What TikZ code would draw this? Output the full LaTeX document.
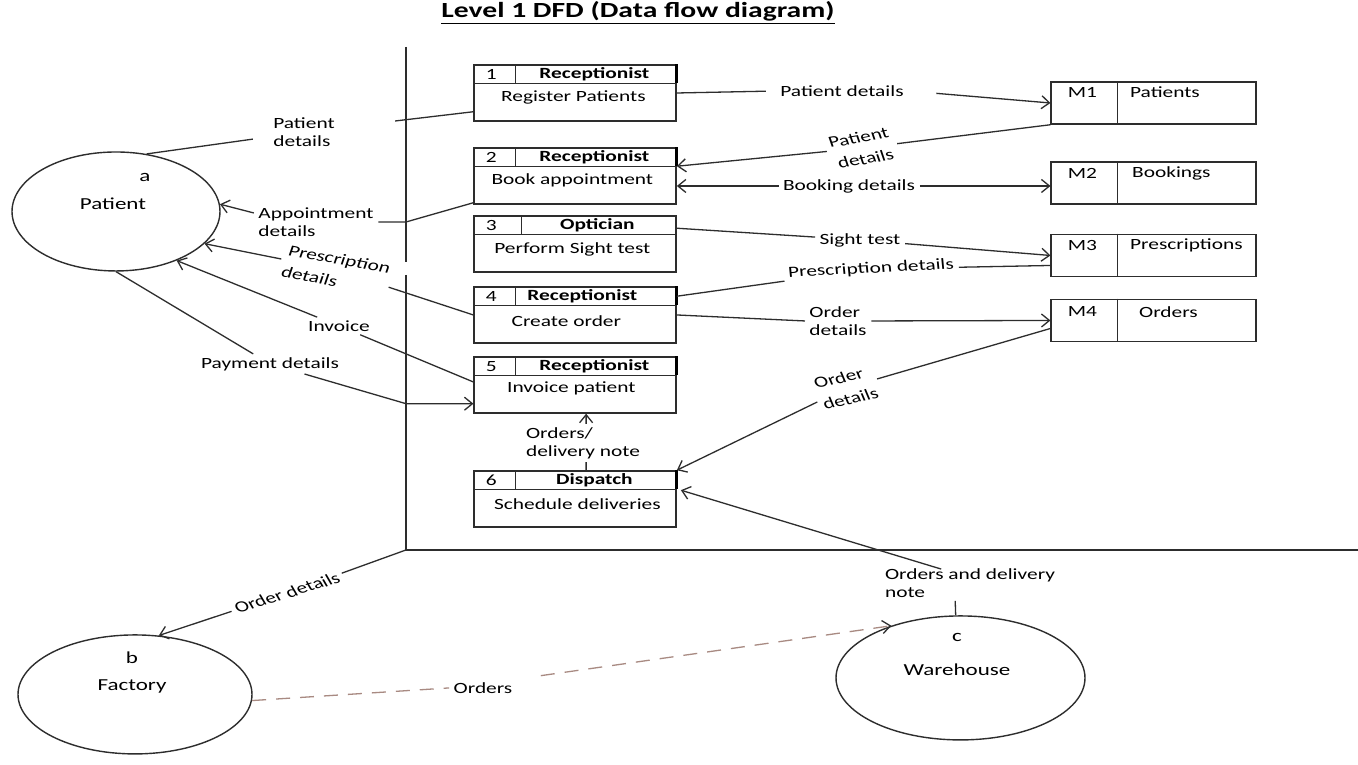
\documentclass[tikz,border=0pt]{standalone}
\usepackage{fontspec}
\setmainfont{Carlito}
\usepackage{tikz}
\usetikzlibrary{calc,shapes.geometric,arrows.meta}

\definecolor{linegray}{RGB}{45,45,45}
\definecolor{dashbrown}{RGB}{168,138,130}

\begin{document}
\begin{tikzpicture}[xscale=1.37, x=0.365pt, y=-0.5pt,
  >={Straight Barb[length=4pt,width=6.5pt]},
  txt/.style={transform shape, font=\fontsize{7.8}{9}\selectfont, inner sep=1.5pt, align=center},
  hdr/.style={txt, font=\fontsize{7.8}{9}\selectfont\bfseries},
  lbl/.style={txt},
  enttxt/.style={txt, font=\fontsize{8.4}{10}\selectfont},
  proc/.style={draw=linegray, line width=0.75pt, minimum width=101pt, minimum height=28pt, inner sep=0pt},
  store/.style={draw=linegray, line width=0.75pt, minimum width=102.5pt, minimum height=21pt, inner sep=0pt},
  ent/.style={draw=linegray, line width=0.7pt, ellipse, inner sep=0pt},
  flow/.style={draw=linegray, line width=0.65pt},
  dashflow/.style={draw=dashbrown, line width=0.65pt, dash pattern=on 7pt off 5pt},
  bound/.style={draw=linegray, line width=1pt},
  hedge/.style={draw=black, line width=1.4pt}]
\fill[white] (0,0) rectangle (1358,765);
\useasboundingbox (0,0) rectangle (1358,765);

\node[transform shape, font=\fontsize{10.8}{13}\selectfont\bfseries] (ttl) at (638,13) {\underline{Level 1 DFD (Data flow diagram)}};

% system boundary
\coordinate (vtop) at (406,47);
\coordinate (vgapa) at (406,262);
\coordinate (vgapb) at (406,275);
\coordinate (crn) at (406,550);
\coordinate (rend) at (1358,550);
\draw[bound] (vtop) -- (vgapa);
\draw[bound] (vgapb) -- (crn) -- (rend);

% external entities
\node[ent, minimum width=104pt, minimum height=59.5pt] (pat) at (116,211.5) {};
\node[enttxt] (pata) at (145,178) {a};
\node[enttxt] (patn) at (113,204) {Patient};
\node[ent, minimum width=117pt, minimum height=59.5pt] (fac) at (135,694.5) {};
\node[enttxt] (faca) at (132,658) {b};
\node[enttxt] (facn) at (132,687) {Factory};
\node[ent, minimum width=124.5pt, minimum height=62pt] (wh) at (960.5,678) {};
\node[enttxt] (wha) at (957,638) {c};
\node[enttxt] (whn) at (957,670) {Warehouse};

% processes
\node[proc] (p1) at (575,93) {};
\draw[flow] ($(p1.north west)+(0,19)$) -- +(202,0) ($(p1.north west)+(42,0)$) -- +(0,19);
\draw[hedge] (p1.north east) -- +(0,19);
\node[txt] (p1n) at ($(p1.north west)+(18,10)$) {1};
\node[hdr] (p1r) at ($(p1.north west)+(121,10)$) {Receptionist};
\node[txt] (p1t) at ($(p1.north west)+(100,33)$) {Register Patients};

\node[proc] (p2) at (575,176) {};
\draw[flow] ($(p2.north west)+(0,19)$) -- +(202,0) ($(p2.north west)+(42,0)$) -- +(0,19);
\draw[hedge] (p2.north east) -- +(0,19);
\node[txt] (p2n) at ($(p2.north west)+(18,10)$) {2};
\node[hdr] (p2r) at ($(p2.north west)+(121,10)$) {Receptionist};
\node[txt] (p2t) at ($(p2.north west)+(99,33)$) {Book appointment};

\node[proc] (p3) at (575,244) {};
\draw[flow] ($(p3.north west)+(0,19)$) -- +(202,0) ($(p3.north west)+(48,0)$) -- +(0,19);
\node[txt] (p3n) at ($(p3.north west)+(18,10)$) {3};
\node[hdr] (p3r) at ($(p3.north west)+(124,10)$) {Optician};
\node[txt] (p3t) at ($(p3.north west)+(99,34)$) {Perform Sight test};

\node[proc] (p4) at (575,315) {};
\draw[flow] ($(p4.north west)+(0,19)$) -- +(202,0) ($(p4.north west)+(42,0)$) -- +(0,19);
\draw[hedge] (p4.north east) -- +(0,19);
\node[txt] (p4n) at ($(p4.north west)+(18,10)$) {4};
\node[hdr] (p4r) at ($(p4.north west)+(109,10)$) {Receptionist};
\node[txt] (p4t) at ($(p4.north west)+(93,35)$) {Create order};

\node[proc] (p5) at (575,385) {};
\draw[flow] ($(p5.north west)+(0,19)$) -- +(202,0) ($(p5.north west)+(42,0)$) -- +(0,19);
\draw[hedge] (p5.north east) -- +(0,19);
\node[txt] (p5n) at ($(p5.north west)+(18,10)$) {5};
\node[hdr] (p5r) at ($(p5.north west)+(121,10)$) {Receptionist};
\node[txt] (p5t) at ($(p5.north west)+(98,32)$) {Invoice patient};

\node[proc] (p6) at (575,499) {};
\draw[flow] ($(p6.north west)+(0,19)$) -- +(202,0) ($(p6.north west)+(42,0)$) -- +(0,19);
\draw[hedge] (p6.north east) -- +(0,19);
\node[txt] (p6n) at ($(p6.north west)+(18,10)$) {6};
\node[hdr] (p6r) at ($(p6.north west)+(121,10)$) {Dispatch};
\node[txt] (p6t) at ($(p6.north west)+(104,34)$) {Schedule deliveries};

% data stores
\node[store] (m1) at (1153.5,103) {};
\draw[flow] ($(m1.north west)+(67,0)$) -- +(0,42);
\node[txt] (m1a) at ($(m1.north west)+(32,11)$) {M1};
\node[txt, anchor=west] (m1b) at ($(m1.north west)+(75,11)$) {Patients};
\node[store] (m2) at (1153.5,183) {};
\draw[flow] ($(m2.north west)+(67,0)$) -- +(0,42);
\node[txt] (m2a) at ($(m2.north west)+(32,12)$) {M2};
\node[txt, anchor=west] (m2b) at ($(m2.north west)+(77,12)$) {Bookings};
\node[store] (m3) at (1153.5,255.5) {};
\draw[flow] ($(m3.north west)+(67,0)$) -- +(0,43);
\node[txt] (m3a) at ($(m3.north west)+(32,12)$) {M3};
\node[txt, anchor=west] (m3b) at ($(m3.north west)+(75,12)$) {Prescriptions};
\node[store] (m4) at (1153.5,320.5) {};
\draw[flow] ($(m4.north west)+(67,0)$) -- +(0,43);
\node[txt] (m4a) at ($(m4.north west)+(32,13)$) {M4};
\node[txt, anchor=west] (m4b) at ($(m4.north west)+(84,13)$) {Orders};

% flow labels
\node[lbl] (pd1) at (842,91) {Patient details};
\node[lbl, rotate=14] (pd2) at (862,148) {Patient\\[2pt]details};
\node[lbl] (bd) at (849,186) {Booking details};
\node[lbl] (st) at (860,240) {Sight test};
\node[lbl, rotate=4] (prd) at (871,269) {Prescription details};
\node[lbl, align=left] (od1) at (838,321) {Order\\details};
\node[lbl, align=left, rotate=17] (od2) at (846,388) {Order\\[2pt]details};
\node[lbl, align=left] (odn) at (583,443) {Orders/\\delivery note};
\node[lbl, align=left] (odl) at (970,583) {Orders and delivery\\note};
\node[lbl, rotate=23] (odf) at (287,593) {Order details};
\node[lbl, align=left] (pd0) at (304,132) {Patient\\details};
\node[lbl, align=left] (ad) at (316,222) {Appointment\\details};
\node[lbl, align=left, rotate=-14] (pdp) at (336,270) {Prescription\\[2pt]details};
\node[lbl] (inv) at (339,326) {Invoice};
\node[lbl] (pay) at (270,364) {Payment details};
\node[lbl] (ord) at (483,688) {Orders};

\coordinate (pd0e) at (395,121);
\coordinate (payin) at ($(p5.south west)+(0,-10)$);

% flows
\draw[flow, shorten >=8pt] (pat.62) -- (pd0);
\draw[flow] ($(p1.south west)+(0,-10)$) -- (pd0e);
\draw[flow] ($(p2.south west)+(0,-2)$) -- (crn |- ad.east) -- (ad.east);
\draw[flow,->] ($(ad.west)+(0,-9)$) -- (pat.4);
\draw[flow] (p4.west) -- (pdp);
\draw[flow,->] (pdp) -- (pat.-20);
\draw[flow] ($(p5.west)+(0,-3)$) -- (inv);
\draw[flow,->] (inv) -- (pat.-39);
\draw[flow] (pat.south) -- (pay);
\draw[flow,->] (pay) -- (crn |- payin) -- (payin);

\draw[flow, shorten >=5pt] (p1.east) -- (pd1.west);
\draw[flow,->, shorten <=14pt] (pd1.east) -- (m1.west);
\draw[flow] (m1.south west) -- (pd2);
\draw[flow,->] (pd2) -- ($(p2.north east)+(0,19)$);
\draw[flow,<-] (bd -| p2.east) -- (bd.west);
\draw[flow,->] (bd.east) -- (bd -| m2.west);
\draw[flow] ($(p3.north east)+(0,13)$) -- (st);
\draw[flow,->] (st) -- (m3.west);
\draw[flow] ($(m3.west)+(0,10)$) -- (prd);
\draw[flow] (prd) -- ($(p4.north east)+(0,10)$);
\draw[flow] (p4.east) -- (od1.west);
\draw[flow,->] (od1.east) -- (m4.west);
\draw[flow] ($(m4.west)+(0,8)$) -- (od2);
\draw[flow,->] (od2) -- (p6.north east);

\draw[flow] ($(p6.north)+(11,0)$) -- ($(odn.south)+(3,0)$);
\draw[flow,->] ($(odn.north)+(3,0)$) -- ($(p5.south)+(11,0)$);
\draw[flow] ($(wh.north)+(-5,0)$) -- ($(odl.south)+(-15,0)$);
\draw[flow,->] ($(odl.north)+(-29,4)$) -- ($(p6.north east)+(4,20)$);
\draw[flow] (crn) -- (odf);
\draw[flow,->] (odf) -- (fac.68);
\draw[dashflow] (fac.-3) -- (ord.west);
\draw[dashflow,-{Straight Barb[length=4pt,width=6.5pt,color=linegray]}, shorten <=12pt] (ord.north east) -- (wh.143);
\end{tikzpicture}
\end{document}
